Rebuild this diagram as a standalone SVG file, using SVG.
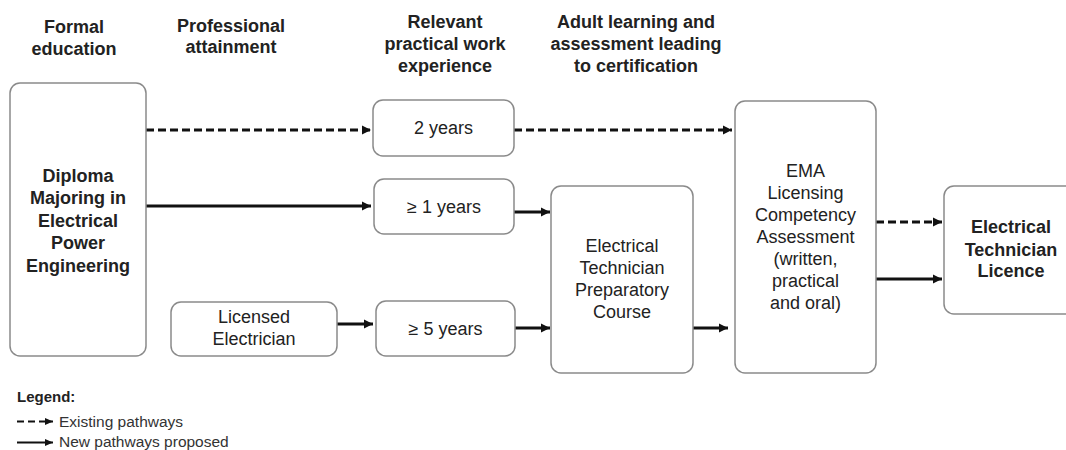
<svg xmlns="http://www.w3.org/2000/svg" width="1066" height="450" viewBox="0 0 1066 450">
<style>
  .box { fill: #ffffff; stroke: #8a8a8a; stroke-width: 1.5; }
  .hdr { font-family: "Liberation Sans", Arial, sans-serif; font-size: 18px; font-weight: bold; fill: #222; text-anchor: middle; }
  .t { font-family: "Liberation Sans", Arial, sans-serif; font-size: 18px; fill: #222; text-anchor: middle; }
  .tb { font-family: "Liberation Sans", Arial, sans-serif; font-size: 18px; font-weight: bold; fill: #222; text-anchor: middle; }
  .solid { stroke: #111; stroke-width: 2.8; fill: none; marker-end: url(#ah); }
  .dash { stroke: #111; stroke-width: 2.8; fill: none; stroke-dasharray: 8 4; marker-end: url(#ah); }
  .lsolid { stroke: #111; stroke-width: 2.2; fill: none; marker-end: url(#ahs); }
  .ldash { stroke: #111; stroke-width: 2.2; fill: none; stroke-dasharray: 7 4; marker-end: url(#ahs); }
  .leg { font-family: "Liberation Sans", Arial, sans-serif; font-size: 15.5px; fill: #333; }
  .legb { font-family: "Liberation Sans", Arial, sans-serif; font-size: 15px; font-weight: bold; fill: #222; }
</style>
<defs>
  <marker id="ah" markerUnits="userSpaceOnUse" markerWidth="10" markerHeight="10" refX="9" refY="5" orient="auto">
    <path d="M0,0.5 L9,5 L0,9.5 z" fill="#111"/>
  </marker>
  <marker id="ahs" markerUnits="userSpaceOnUse" markerWidth="9" markerHeight="8" refX="8" refY="4" orient="auto">
    <path d="M0,0.5 L8,4 L0,7.5 z" fill="#111"/>
  </marker>
</defs>

<g id="headers">
  <text class="hdr" x="74" y="33">Formal</text>
  <text class="hdr" x="74" y="54.5">education</text>
  <text class="hdr" x="231" y="31.5">Professional</text>
  <text class="hdr" x="231" y="53">attainment</text>
  <text class="hdr" x="445" y="28">Relevant</text>
  <text class="hdr" x="445" y="50">practical work</text>
  <text class="hdr" x="445" y="72">experience</text>
  <text class="hdr" x="636" y="28">Adult learning and</text>
  <text class="hdr" x="636" y="50">assessment leading</text>
  <text class="hdr" x="636" y="72">to certification</text>
</g>

<g id="connectors">
  <line class="dash" x1="146" y1="130" x2="371" y2="130"/>
  <line class="solid" x1="146" y1="206" x2="371" y2="206"/>
  <line class="dash" x1="514" y1="130" x2="732" y2="130"/>
  <line class="solid" x1="514" y1="212" x2="550" y2="212"/>
  <line class="solid" x1="337" y1="324" x2="373" y2="324"/>
  <line class="solid" x1="515" y1="328" x2="550" y2="328"/>
  <line class="solid" x1="693" y1="328" x2="728" y2="328"/>
  <line class="dash" x1="876" y1="222" x2="942" y2="222"/>
  <line class="solid" x1="876" y1="279" x2="942" y2="279"/>
</g>

<g id="diploma">
  <rect class="box" x="10" y="83" width="136" height="273" rx="10"/>
  <text class="tb" x="78" y="181.5">Diploma</text>
  <text class="tb" x="78" y="204">Majoring in</text>
  <text class="tb" x="78" y="226.5">Electrical</text>
  <text class="tb" x="78" y="249">Power</text>
  <text class="tb" x="78" y="271.5">Engineering</text>
</g>

<g id="licensed-electrician">
  <rect class="box" x="171" y="302" width="166" height="54" rx="10"/>
  <text class="t" x="254" y="323">Licensed</text>
  <text class="t" x="254" y="345">Electrician</text>
</g>

<g id="two-years">
  <rect class="box" x="373" y="100" width="141" height="56" rx="10"/>
  <text class="t" x="443.5" y="134">2 years</text>
</g>

<g id="one-year">
  <rect class="box" x="374" y="179" width="140" height="55" rx="10"/>
  <text class="t" x="444" y="213">≥ 1 years</text>
</g>

<g id="five-years">
  <rect class="box" x="376" y="301" width="139" height="55" rx="10"/>
  <text class="t" x="445.5" y="335">≥ 5 years</text>
</g>

<g id="prep-course">
  <rect class="box" x="551" y="186" width="142" height="187" rx="10"/>
  <text class="t" x="622" y="252">Electrical</text>
  <text class="t" x="622" y="274">Technician</text>
  <text class="t" x="622" y="296">Preparatory</text>
  <text class="t" x="622" y="318">Course</text>
</g>

<g id="ema-assessment">
  <rect class="box" x="735" y="101" width="141" height="272" rx="10"/>
  <text class="t" x="805.5" y="177">EMA</text>
  <text class="t" x="805.5" y="199">Licensing</text>
  <text class="t" x="805.5" y="221">Competency</text>
  <text class="t" x="805.5" y="243">Assessment</text>
  <text class="t" x="805.5" y="265">(written,</text>
  <text class="t" x="805.5" y="287">practical</text>
  <text class="t" x="805.5" y="309">and oral)</text>
</g>

<g id="licence">
  <rect class="box" x="944" y="186" width="136" height="128" rx="10"/>
  <text class="tb" x="1011" y="233">Electrical</text>
  <text class="tb" x="1011" y="255.5">Technician</text>
  <text class="tb" x="1011" y="277">Licence</text>
</g>

<g id="legend">
  <text class="legb" x="17" y="402">Legend:</text>
  <line class="ldash" x1="17" y1="421.5" x2="53" y2="421.5"/>
  <text class="leg" x="59" y="426.5">Existing pathways</text>
  <line class="lsolid" x1="17" y1="442.5" x2="53" y2="442.5"/>
  <text class="leg" x="59" y="447">New pathways proposed</text>
</g>
</svg>
